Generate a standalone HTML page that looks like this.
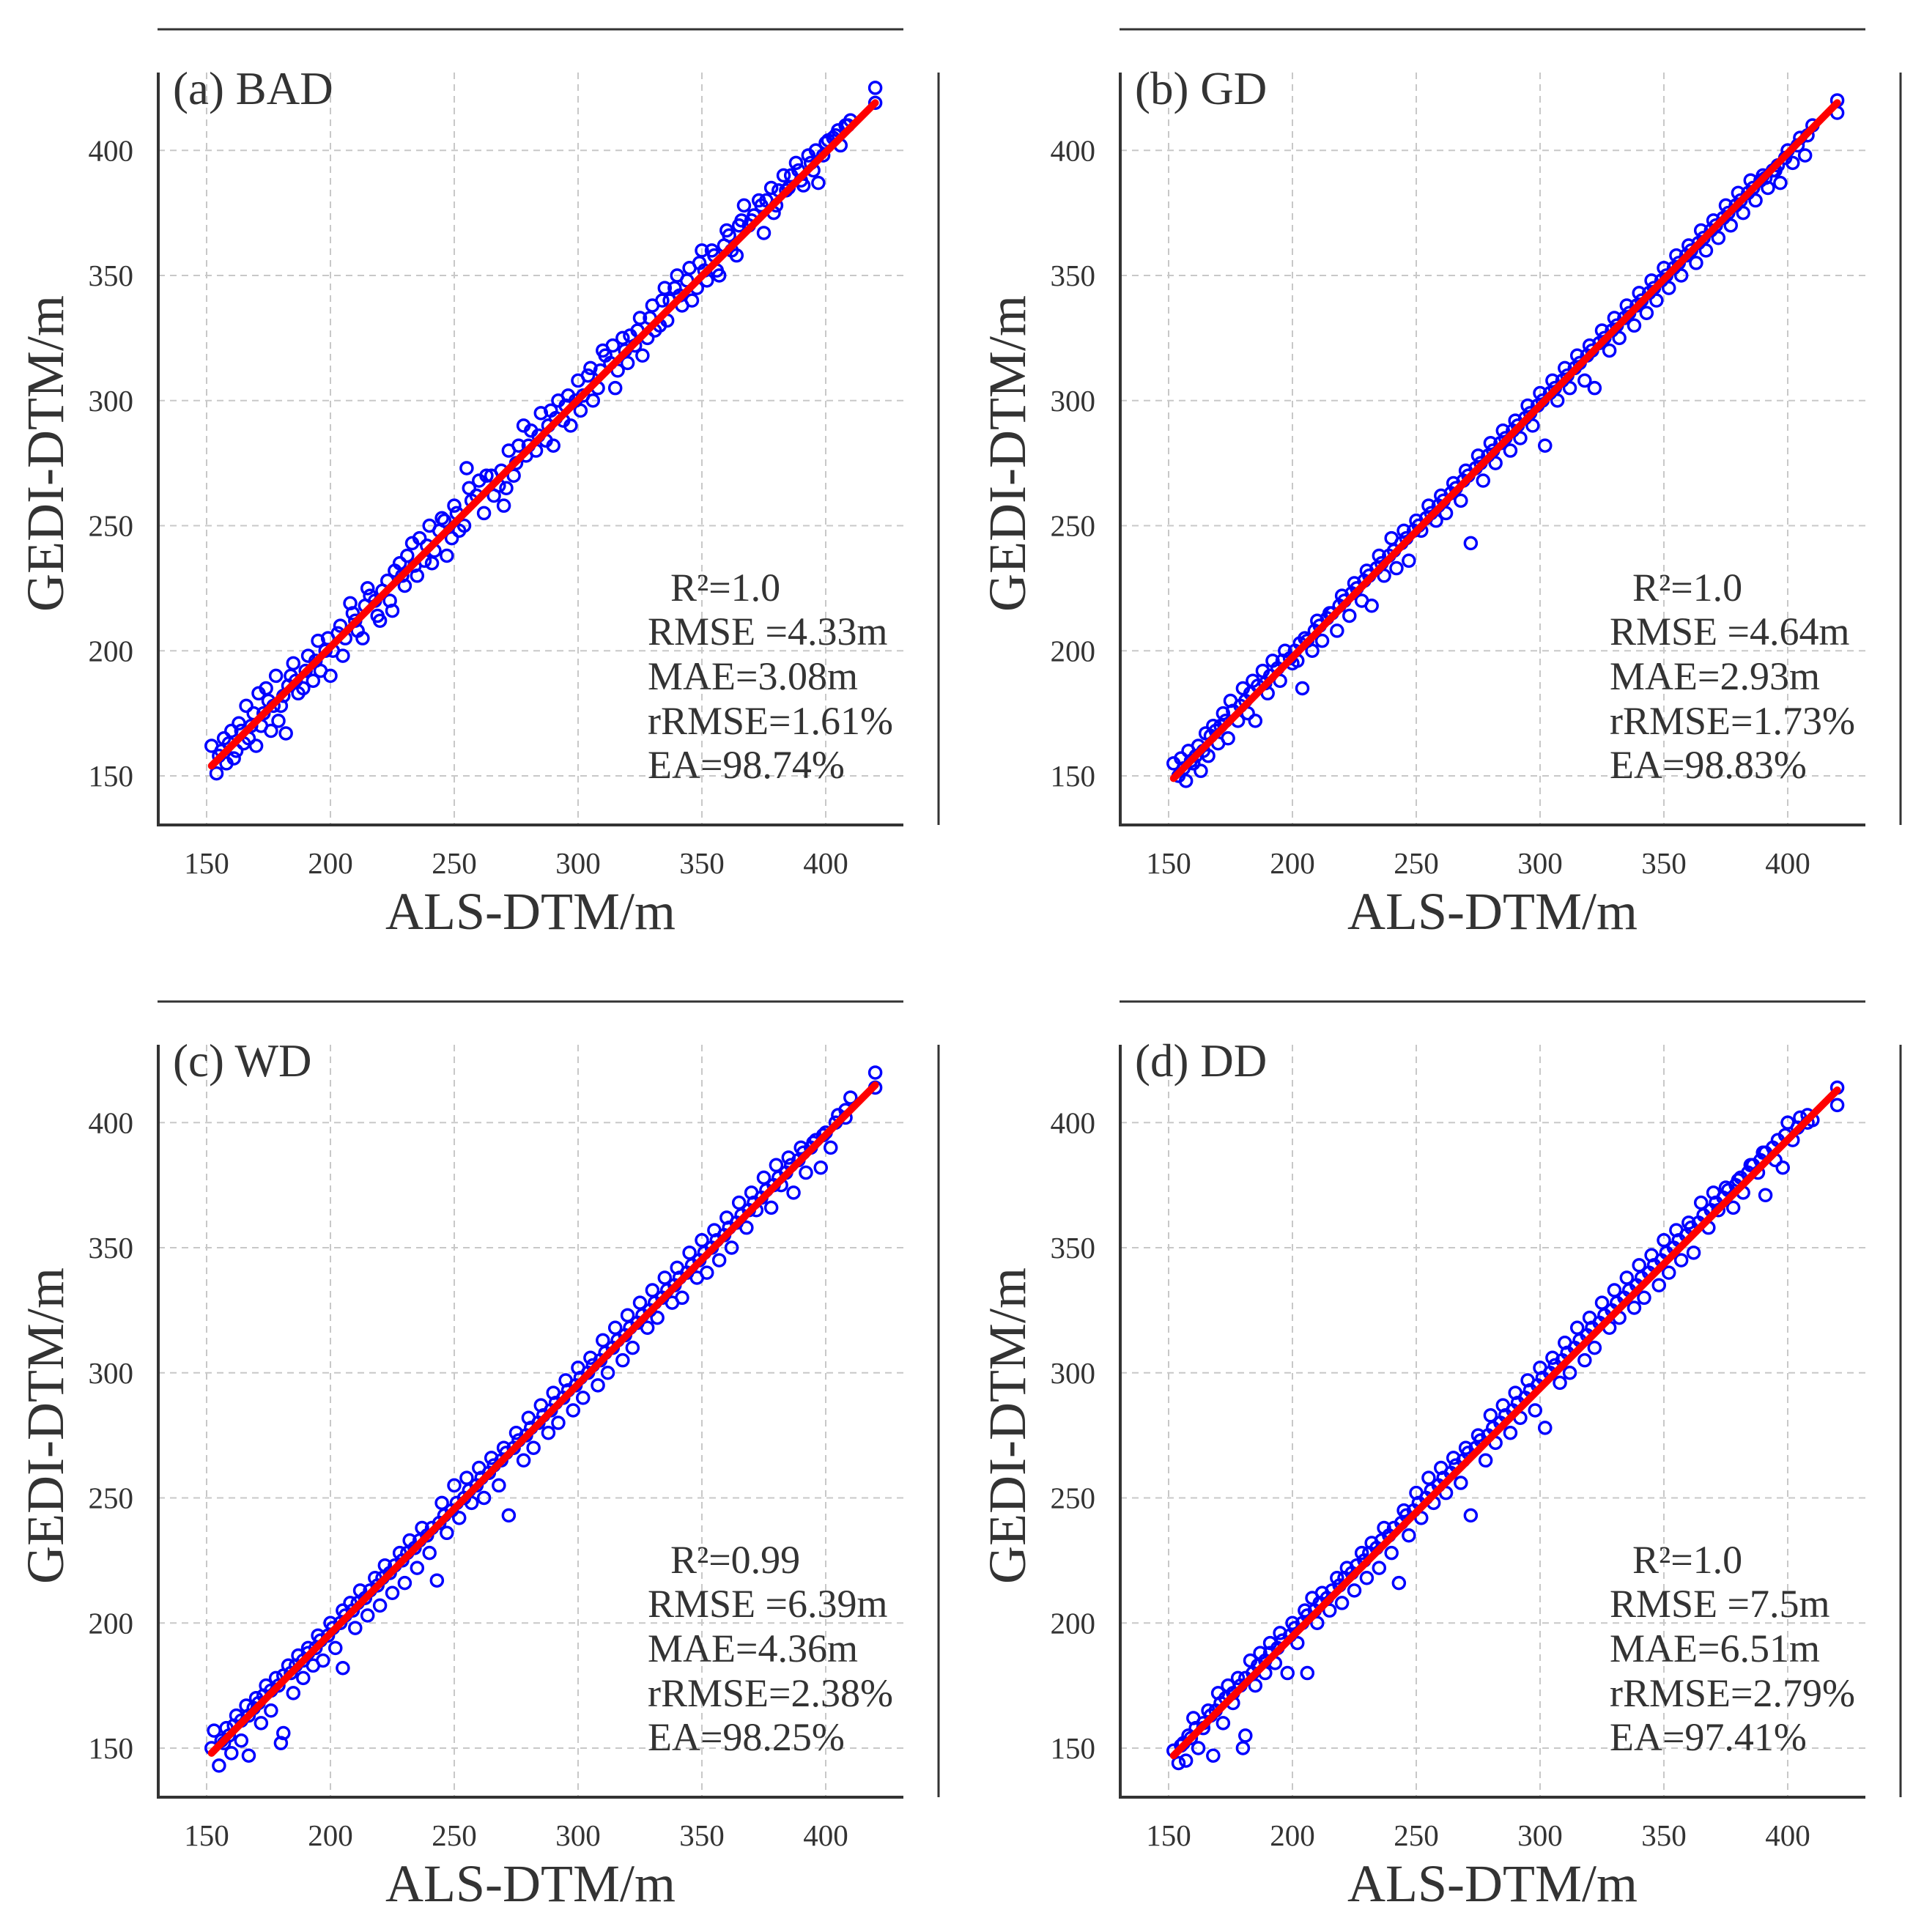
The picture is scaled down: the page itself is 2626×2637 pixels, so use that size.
<!DOCTYPE html>
<html><head><meta charset="utf-8">
<style>
html,body{margin:0;padding:0;background:#fff;}
svg{display:block;font-family:"Liberation Serif",serif;}
</style></head>
<body>
<svg id="fig" width="2626" height="2637" viewBox="0 0 2626 2637" xmlns="http://www.w3.org/2000/svg"></svg>
<script>
const xTicks=[150,200,250,300,350,400];
const yTicks=[150,200,250,300,350,400];
const panelTitles=["(a) BAD","(b) GD","(c) WD","(d) DD"];
const r2Labels=["R\u00b2=1.0","R\u00b2=1.0","R\u00b2=0.99","R\u00b2=1.0"];
const rmseLabels=["RMSE =4.33m","RMSE =4.64m","RMSE =6.39m","RMSE =7.5m"];
const maeLabels=["MAE=3.08m","MAE=2.93m","MAE=4.36m","MAE=6.51m"];
const rrmseLabels=["rRMSE=1.61%","rRMSE=1.73%","rRMSE=2.38%","rRMSE=2.79%"];
const eaLabels=["EA=98.74%","EA=98.83%","EA=98.25%","EA=97.41%"];
const fitX=[[152,420],[152,420],[152,420],[152,420]];
const fitY=[[154,419],[149,419],[148,415],[147,413]];
const ptsA=[152,162,154,151,155,158,157,165,158,155,160,168,162,160,163,171,165,163,166,178,168,170,170,162,171,183,173,175,175,180,176,168,178,190,180,178,182,167,183,186,185,195,187,183,190,192,193,188,195,204,198,200,200,190,203,207,205,198,208,219,210,212,213,205,215,225,218,220,220,212,223,228,225,216,228,235,230,226,233,243,235,230,238,236,240,250,242,240,245,253,247,238,250,258,252,248,255,273,257,260,260,268,262,255,265,270,268,266,270,258,272,280,275,275,278,290,280,282,283,280,285,295,288,290,290,282,292,300,295,298,297,290,300,308,302,302,305,313,308,305,310,320,313,315,315,305,318,325,320,315,323,322,325,333,328,325,330,338,333,330,335,345,337,340,340,350,342,338,345,353,348,345,350,360,352,348,355,358,357,350,360,368,362,360,365,370,367,378,370,372,373,380,375,367,378,385,380,378,383,390,385,385,388,395,390,388,393,398,395,392,397,387,400,403,403,405,405,408,408,410,410,412,420,425,420,419];
const ptsA2=[156,160,159,163,161,157,164,168,167,165,169,175,172,170,174,185,177,178,179,172,181,182,184,190,186,188,189,185,191,198,194,196,196,192,199,205,201,200,204,210,206,205,209,215,211,208,214,218,216,222,219,214,221,224,224,220,226,232,229,230,231,238,234,234,236,245,239,242,241,235,244,248,246,252,249,245,251,255,254,250,256,265,259,262,263,270,266,262,269,272,271,265,274,270,276,282,279,278,281,288,284,286,287,284,289,296,291,293,294,292,296,302,299,300,301,296,304,310,306,300,309,312,311,318,314,322,316,312,319,320,321,326,324,328,326,318,329,333,331,328,334,340,336,332,339,345,341,342,344,348,346,340,349,355,351,352,354,360,356,352,359,362,361,366,364,358,366,372,369,370,371,374,374,378,376,380,379,375,381,384,384,384,386,390,389,392,391,386,394,395,396,400,399,398,401,404,404,406,406,402,409,410];
const ptsB=[152,155,154,150,155,157,157,148,158,160,160,155,162,162,163,152,165,167,166,158,168,170,170,163,172,175,174,165,175,180,178,172,180,185,182,175,184,188,185,172,188,192,190,183,192,196,195,188,197,200,200,195,202,196,204,185,205,205,208,200,210,212,212,204,215,215,218,208,220,222,223,214,225,227,228,220,230,232,232,218,235,238,237,230,240,245,242,233,245,248,247,236,250,252,252,248,255,258,258,252,260,262,262,255,265,267,268,260,270,272,272,243,275,278,277,268,280,283,282,275,285,288,288,280,290,292,292,285,295,298,297,290,300,303,302,282,305,308,307,300,310,313,312,305,315,318,318,308,320,322,322,305,325,328,328,320,330,333,332,325,335,338,338,330,340,343,343,335,345,348,347,340,350,353,352,345,355,358,357,350,360,362,363,355,365,368,367,360,370,372,372,365,375,378,377,370,380,383,382,375,385,388,387,380,390,390,392,385,395,392,397,387,400,400,402,395,405,405,407,398,410,410,420,420,420,415];
const ptsB2=[156,153,159,156,161,158,164,160,167,166,169,168,171,170,173,172,176,176,179,178,181,180,183,183,186,186,189,187,191,190,194,193,196,196,199,197,201,200,203,203,206,204,209,208,211,210,214,213,216,215,219,218,221,220,224,223,226,225,229,228,231,230,234,233,236,235,239,238,241,240,244,243,246,245,249,248,251,250,254,253,256,255,259,258,261,260,264,263,266,265,269,268,271,270,274,273,276,275,279,278,281,280,284,283,286,285,289,288,291,290,294,293,296,295,299,298,301,300,304,303,306,305,309,308,311,310,314,313,316,315,319,318,321,320,324,323,326,325,329,328,331,330,334,333,336,335,339,338,341,340,344,343,346,345,349,348,351,350,354,353,356,355,359,358,361,360,364,363,366,365,369,368,371,370,374,373,376,375,379,378,381,380,384,383,386,385,389,388,391,389,394,392,396,394,399,397,404,402,408,406];
const ptsC=[152,150,153,157,155,143,157,152,158,158,160,148,162,163,164,153,166,167,167,147,170,170,172,160,174,175,176,165,178,178,180,152,181,156,183,183,185,172,187,187,189,178,191,190,193,183,195,195,197,185,200,200,202,190,205,205,205,182,208,208,210,198,212,213,215,203,218,218,220,207,222,223,225,212,228,228,230,216,232,233,235,222,237,238,240,228,243,217,245,248,247,236,250,255,252,242,255,258,257,248,260,262,262,250,265,266,268,255,270,270,272,243,275,276,278,265,280,282,282,270,285,287,288,276,290,292,292,280,295,297,298,285,300,302,302,290,305,306,308,295,310,313,312,300,315,318,318,305,320,323,322,310,325,328,328,318,330,333,332,322,335,338,338,328,340,342,342,330,345,348,348,338,350,353,352,340,355,357,357,345,360,362,362,350,365,368,368,358,370,372,372,365,375,378,378,366,380,383,382,375,385,386,387,372,390,390,392,380,395,392,398,382,400,396,402,390,405,403,408,402,410,410,420,420,420,414];
const ptsC2=[156,153,159,155,161,159,164,161,167,163,169,166,171,168,173,171,176,173,179,175,181,179,184,180,186,183,189,185,191,188,194,190,196,193,199,195,201,198,204,200,206,203,209,205,211,208,214,210,216,213,219,215,221,218,224,220,226,223,229,225,231,228,234,230,236,233,239,235,241,238,244,240,246,243,249,245,251,248,254,250,256,253,259,255,261,258,264,260,266,263,269,265,271,268,274,270,276,273,279,275,281,278,284,280,286,283,289,285,291,288,294,290,296,293,299,295,301,298,304,300,306,303,309,305,311,308,314,310,316,313,319,315,321,318,324,320,326,323,329,325,331,328,334,330,336,333,339,335,341,338,344,340,346,343,349,345,351,348,354,350,356,353,359,355,361,358,364,360,366,363,369,365,371,368,374,370,376,373,379,375,381,378,384,380,386,383,389,385,391,388,394,390,396,393,399,395,404,400,408,405];
const ptsD=[152,149,154,144,155,151,157,145,158,155,160,162,162,150,164,158,166,165,168,147,170,172,172,160,174,175,176,168,178,178,180,150,181,155,183,185,185,175,187,188,189,180,191,192,193,184,195,196,198,180,200,200,202,192,205,205,206,180,208,210,210,200,212,212,215,205,218,218,220,208,222,222,225,213,228,228,230,218,232,232,235,222,237,238,240,228,243,216,245,245,247,235,250,252,252,242,255,258,257,248,260,262,262,252,265,266,268,256,270,270,272,243,275,275,278,265,280,283,282,272,285,287,288,276,290,292,292,282,295,297,298,285,300,302,302,278,305,306,308,296,310,312,312,300,315,318,318,305,320,322,322,310,325,328,328,318,330,333,332,322,335,338,338,326,340,343,342,330,345,347,348,335,350,353,352,340,355,357,357,345,360,360,362,348,365,368,368,358,370,372,372,365,375,374,378,366,380,377,382,372,385,383,388,380,390,388,391,371,395,385,398,382,400,400,402,393,405,402,408,400,410,401,420,414,420,407];
const ptsD2=[156,152,159,154,161,158,164,160,167,163,169,165,171,168,173,170,176,172,179,175,181,178,184,180,186,183,189,185,191,188,194,190,196,193,199,195,201,198,204,200,206,203,209,205,211,208,214,210,216,213,219,215,221,218,224,220,226,223,229,225,231,228,234,230,236,233,239,235,241,238,244,240,246,243,249,245,251,248,254,250,256,253,259,255,261,258,264,260,266,263,269,265,271,268,274,270,276,273,279,275,281,278,284,280,286,283,289,285,291,288,294,290,296,293,299,295,301,298,304,300,306,303,309,305,311,308,314,310,316,313,319,315,321,318,324,320,326,323,329,325,331,328,334,330,336,333,339,335,341,338,344,340,346,343,349,345,351,348,354,350,356,353,359,355,361,358,364,360,366,363,369,365,371,368,374,370,376,373,379,375,381,378,384,380,386,383,389,385,391,388,394,390,396,393,399,395,404,398,408,403];
const allPts=[ptsA.concat(ptsA2),ptsB.concat(ptsB2),ptsC.concat(ptsC2),ptsD.concat(ptsD2)];

const NS="http://www.w3.org/2000/svg";
const svg=document.getElementById('fig');
function mk(tag,attrs,parent,text){
  const e=document.createElementNS(NS,tag);
  for(const k in attrs)e.setAttribute(k,attrs[k]);
  if(text!==undefined)e.textContent=text;
  parent.appendChild(e);return e;
}
const offsets=[[0,0],[1313,0],[0,1327],[1313,1327]];
for(let p=0;p<4;p++){
  const ox=offsets[p][0],oy=offsets[p][1];
  const g=mk('g',{transform:`translate(${ox},${oy})`},svg);
  
  
  const xs=v=>282+(v-150)*3.38;
  const ys=v=>1059-(v-150)*3.415;
  const L=216,R=1233,T=99,B=1126;
  xTicks.forEach(t=>{
    const l=mk('line',{x1:xs(t),x2:xs(t),y1:T,y2:B,stroke:'#c8c8c8','stroke-width':2,'stroke-dasharray':'9,7'},g);
    
    
    const tx=mk('text',{x:xs(t),y:1192,'text-anchor':'middle','font-size':41,fill:'#333'},g,String(t));
    
    
  });
  yTicks.forEach(t=>{
    const l=mk('line',{x1:L,x2:R,y1:ys(t),y2:ys(t),stroke:'#c8c8c8','stroke-width':2,'stroke-dasharray':'9,7'},g);
    
    
    const tx=mk('text',{x:182,y:ys(t)+14,'text-anchor':'end','font-size':41,fill:'#333'},g,String(t));
    
    
  });
  const top=mk('line',{x1:215,x2:1233,y1:40,y2:40,stroke:'#333','stroke-width':3},g);
  
  
  const rl=mk('line',{x1:1281,x2:1281,y1:99,y2:1126,stroke:'#333','stroke-width':3},g);
  
  
  const ax=mk('path',{d:`M${L},${T} L${L},${B} L${R},${B}`,fill:'none',stroke:'#333','stroke-width':4},g);
  
  
  const pts=allPts[p];
  for(let i=0;i<pts.length;i+=2){
    const c=mk('circle',{cx:xs(pts[i]),cy:ys(pts[i+1]),r:8,fill:'none',stroke:'#0000ff','stroke-width':3.5},g);
    
    
  }
  const fl=mk('line',{x1:xs(fitX[p][0]),y1:ys(fitY[p][0]),x2:xs(fitX[p][1]),y2:ys(fitY[p][1]),stroke:'#ff0000','stroke-width':10,'stroke-linecap':'round'},g);
  
  
  const tt=mk('text',{x:236,y:142,'font-size':63,fill:'#333'},g,panelTitles[p]);
  
  
  const xt=mk('text',{x:724,y:1268,'text-anchor':'middle','font-size':72,fill:'#333'},g,'ALS-DTM/m');
  
  
  const yt=mk('text',{x:0,y:0,'text-anchor':'middle','font-size':72,fill:'#333',transform:'translate(86,619) rotate(-90)'},g,'GEDI-DTM/m');
  
  
  const stats=[r2Labels[p],rmseLabels[p],maeLabels[p],rrmseLabels[p],eaLabels[p]];
  const sb=[820,880,941,1002,1062];
  stats.forEach((s,i)=>{
    const st=mk('text',{x:i===0?915:884,y:sb[i],'font-size':54,fill:'#333'},g,s);
    
    
  });
}
</script>
</body></html>
